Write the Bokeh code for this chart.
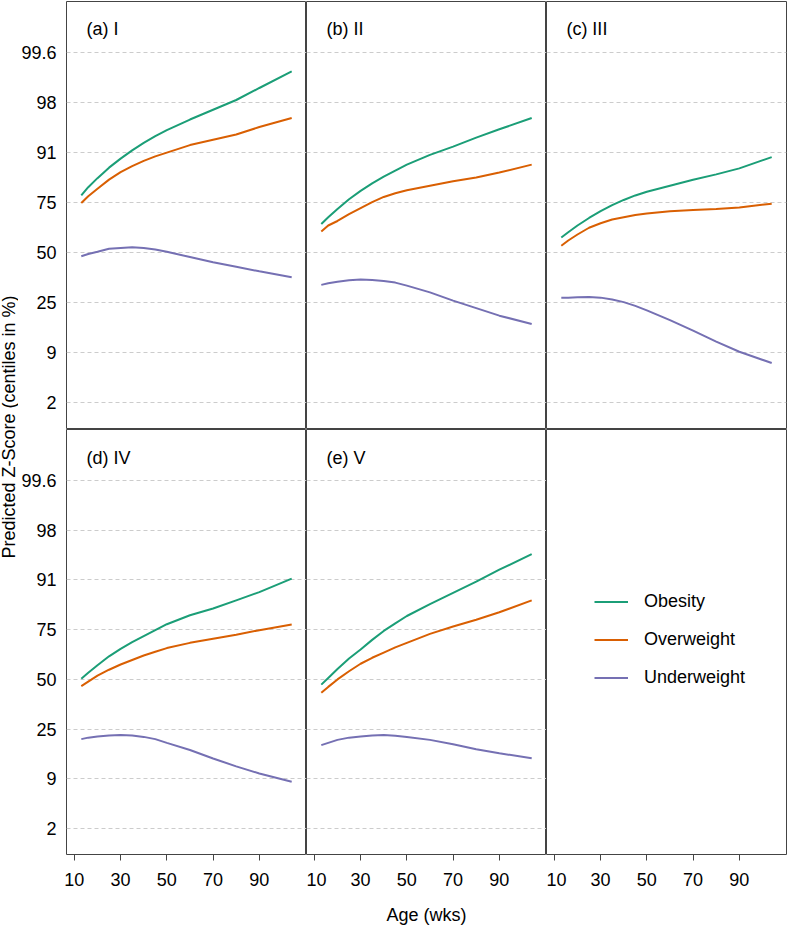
from bokeh.plotting import figure
from bokeh.models import Range1d, FixedTicker, Label, Legend, LegendItem, Grid
from bokeh.layouts import gridplot, row
from bokeh.embed import file_html
from bokeh.resources import INLINE

# ---------------- data (z-scores) ----------------
ages = [13, 16, 20, 25, 30, 35, 40, 45, 50, 60, 70, 80, 90, 104]

obesity_a = [0.76, 0.87, 0.99, 1.13, 1.25, 1.36, 1.46, 1.55, 1.63, 1.77, 1.90, 2.03, 2.19, 2.41]
overweight_a = [0.66, 0.75, 0.85, 0.97, 1.07, 1.15, 1.22, 1.28, 1.33, 1.43, 1.50, 1.57, 1.67, 1.79]
underweight_a = [-0.05, -0.02, 0.01, 0.05, 0.06, 0.07, 0.06, 0.04, 0.01, -0.06, -0.13, -0.19, -0.25, -0.33]

obesity_b = [0.38, 0.47, 0.58, 0.71, 0.82, 0.92, 1.01, 1.09, 1.17, 1.30, 1.41, 1.53, 1.64, 1.79]
overweight_b = [0.28, 0.36, 0.42, 0.51, 0.59, 0.67, 0.74, 0.79, 0.83, 0.89, 0.95, 1.00, 1.065, 1.17]
underweight_b = [-0.43, -0.41, -0.39, -0.37, -0.36, -0.365, -0.38, -0.40, -0.44, -0.53, -0.64, -0.74, -0.84, -0.95]

obesity_c = [0.20, 0.27, 0.36, 0.46, 0.55, 0.63, 0.70, 0.76, 0.81, 0.89, 0.97, 1.04, 1.12, 1.27]
overweight_c = [0.09, 0.16, 0.24, 0.33, 0.39, 0.44, 0.47, 0.50, 0.52, 0.55, 0.565, 0.58, 0.60, 0.65]
underweight_c = [-0.60, -0.60, -0.595, -0.593, -0.60, -0.625, -0.66, -0.71, -0.77, -0.90, -1.04, -1.185, -1.32, -1.47]

obesity_d = [0.01, 0.09, 0.19, 0.31, 0.41, 0.50, 0.58, 0.66, 0.74, 0.86, 0.95, 1.06, 1.17, 1.35]
overweight_d = [-0.09, -0.03, 0.05, 0.13, 0.20, 0.26, 0.32, 0.37, 0.42, 0.49, 0.545, 0.60, 0.66, 0.735]
underweight_d = [-0.80, -0.78, -0.765, -0.75, -0.745, -0.75, -0.77, -0.80, -0.85, -0.945, -1.06, -1.165, -1.26, -1.37]

obesity_e = [-0.07, 0.02, 0.14, 0.28, 0.40, 0.53, 0.65, 0.75, 0.85, 1.01, 1.16, 1.31, 1.47, 1.68]
overweight_e = [-0.18, -0.10, 0.00, 0.11, 0.21, 0.29, 0.36, 0.43, 0.49, 0.61, 0.71, 0.80, 0.90, 1.06]
underweight_e = [-0.88, -0.85, -0.81, -0.78, -0.765, -0.75, -0.745, -0.755, -0.77, -0.81, -0.87, -0.935, -0.99, -1.055]

panel_titles = ["(a) I", "(b) II", "(c) III", "(d) IV", "(e) V"]
series_names = ["Obesity", "Overweight", "Underweight"]
series_colors = ["#1B9E77", "#D95F02", "#7570B3"]

y_tick_z = [-2.0, -4.0 / 3.0, -2.0 / 3.0, 0.0, 2.0 / 3.0, 4.0 / 3.0, 2.0, 8.0 / 3.0]
y_tick_labels = ["2", "9", "25", "50", "75", "91", "98", "99.6"]
x_ticks = [10, 30, 50, 70, 90]

x_label = "Age (wks)"
y_label = "Predicted Z-Score (centiles in %)"

panel_series = [
    [obesity_a, overweight_a, underweight_a],
    [obesity_b, overweight_b, underweight_b],
    [obesity_c, overweight_c, underweight_c],
    [obesity_d, overweight_d, underweight_d],
    [obesity_e, overweight_e, underweight_e],
]

# ---------------- styling / layout constants ----------------
FONT = "Liberation Sans"
FS = "18px"
BORDER = "#444444"
FRAME_W = 240
FRAME_H = 428
TOP_PAD = 1
BOT_MARGIN = 70
LEFT_MARGIN = 48
YLAB_W = 18

X_START, X_END = 6.6, 110.4
TOP_Y = (-2.355, 3.341)
BOT_Y = (-2.346, 3.349)
TITLE_X, TITLE_Z = 15.2, 2.97


def make_panel(r, c, idx):
    bottom = r == 1
    left = c == 0
    yr = BOT_Y if bottom else TOP_Y
    w = FRAME_W + (LEFT_MARGIN if left else 0) + (1 if c == 2 else 0)
    h = FRAME_H + (BOT_MARGIN if bottom else TOP_PAD)
    p = figure(
        width=w, height=h,
        x_range=Range1d(X_START, X_END), y_range=Range1d(*yr),
        x_axis_location="below" if bottom else None,
        y_axis_location="left" if left else None,
        toolbar_location=None, output_backend="svg",
        min_border_left=LEFT_MARGIN if left else 0,
        min_border_right=1 if c == 2 else 0,
        min_border_top=0 if bottom else TOP_PAD,
        min_border_bottom=BOT_MARGIN if bottom else 0,
    )
    p.outline_line_color = BORDER
    p.outline_line_width = 1
    p.background_fill_color = "white"
    p.border_fill_color = "white"
    p.grid.visible = False

    if bottom:
        ax = p.xaxis
        ax.ticker = FixedTicker(ticks=x_ticks)
        ax.axis_line_color = None
        ax.major_tick_line_color = BORDER
        ax.major_tick_out = 6
        ax.major_tick_in = 0
        ax.minor_tick_line_color = None
        ax.major_label_text_font = FONT
        ax.major_label_text_font_size = FS
        ax.major_label_text_color = "black"
        ax.major_label_standoff = 12
        if c == 1:
            ax.axis_label = x_label
            ax.axis_label_text_font = FONT
            ax.axis_label_text_font_size = FS
            ax.axis_label_text_font_style = "normal"
            ax.axis_label_text_color = "black"
            ax.axis_label_standoff = 16
    if left:
        ay = p.yaxis
        ay.ticker = FixedTicker(ticks=y_tick_z)
        ay.major_label_overrides = dict(zip(y_tick_z, y_tick_labels))
        ay.axis_line_color = None
        ay.major_tick_line_color = None
        ay.minor_tick_line_color = None
        ay.major_label_text_font = FONT
        ay.major_label_text_font_size = FS
        ay.major_label_text_color = "black"
        ay.major_label_standoff = 4

    if idx is not None:
        g = Grid(dimension=1, ticker=FixedTicker(ticks=y_tick_z),
                 grid_line_color="#cccccc", grid_line_width=1,
                 grid_line_dash="4 3")
        p.add_layout(g, "center")
        for vals, col in zip(panel_series[idx], series_colors):
            p.line(ages, vals, line_color=col, line_width=2)
        p.add_layout(Label(x=TITLE_X, y=TITLE_Z, text=panel_titles[idx],
                           text_font=FONT, text_font_size=FS,
                           text_color="black", text_align="left",
                           text_baseline="middle"))
    else:
        items = []
        for name, col, vals in zip(series_names, series_colors, panel_series[0]):
            rr = p.line(ages, vals, line_color=col, line_width=2, visible=False)
            items.append(LegendItem(label=name, renderers=[rr]))
        leg = Legend(items=items, location=(48, 166), orientation="vertical",
                     glyph_width=34, glyph_height=21, label_height=21,
                     spacing=17, padding=0, margin=0, label_standoff=16,
                     border_line_color=None, background_fill_alpha=0,
                     label_text_font=FONT, label_text_font_size=FS,
                     label_text_color="black", click_policy="none")
        p.add_layout(leg, "center")
    return p


panels = []
k = 0
for r in range(2):
    row_list = []
    for c in range(3):
        if r == 1 and c == 2:
            row_list.append(make_panel(r, c, None))
        else:
            row_list.append(make_panel(r, c, k))
            k += 1
    panels.append(row_list)

grid = gridplot(panels, toolbar_location=None)

ylab_h = 2 * FRAME_H + TOP_PAD
ylab = figure(width=YLAB_W, height=ylab_h, x_range=Range1d(0, 1),
              y_range=Range1d(0, ylab_h), x_axis_location=None,
              y_axis_location=None, toolbar_location=None,
              output_backend="svg", min_border=0)
ylab.outline_line_color = None
ylab.grid.visible = False
ylab.add_layout(Label(x=0.47, y=ylab_h - 426.5, text=y_label, angle=1.5707963,
                      text_font=FONT, text_font_size=FS, text_color="black",
                      text_align="center", text_baseline="middle"))

layout = row(ylab, grid)

open("out.html", "w").write(file_html(layout, INLINE, "chart"))
